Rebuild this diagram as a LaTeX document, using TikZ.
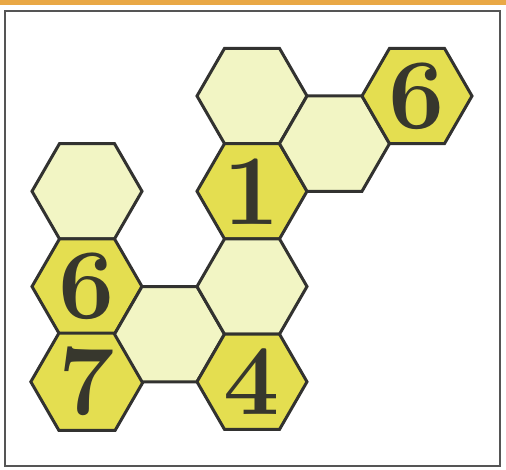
\documentclass[tikz,border=0pt]{standalone}
\usetikzlibrary{shapes.geometric}
\definecolor{paleyellow}{RGB}{242,245,196}
\definecolor{cellyellow}{RGB}{228,222,80}
\definecolor{digitgray}{RGB}{55,55,45}
\definecolor{edgegray}{RGB}{50,50,48}
\definecolor{framegray}{RGB}{85,85,85}
\definecolor{barorange}{RGB}{233,168,70}
\begin{document}
\begin{tikzpicture}[x={(82.5pt,0pt)},y={(0pt,-47.63pt)},every node/.style={regular polygon, regular polygon sides=6, minimum size=110pt, inner sep=0pt, draw=edgegray, line width=3pt, text=digitgray, font=\fontsize{100}{100}\selectfont\bfseries}]
\useasboundingbox (-87pt,96pt) rectangle (419pt,-374pt);
\fill[barorange] (-87pt,96pt) rectangle (419pt,91pt);
\draw[framegray,line width=2.5pt] (-82pt,85pt) rectangle (413pt,-370pt);
\node[fill=paleyellow] (h02) at (0,2) {};
\node[fill=cellyellow] (h04) at (0,4) {6};
\node[fill=cellyellow] (h06) at (0,6) {7};
\node[fill=paleyellow] (h15) at (1,5) {};
\node[fill=paleyellow] (h20) at (2,0) {};
\node[fill=cellyellow] (h22) at (2,2) {1};
\node[fill=paleyellow] (h24) at (2,4) {};
\node[fill=cellyellow] (h26) at (2,6) {4};
\node[fill=paleyellow] (h31) at (3,1) {};
\node[fill=cellyellow] (h40) at (4,0) {6};
\end{tikzpicture}
\end{document}
